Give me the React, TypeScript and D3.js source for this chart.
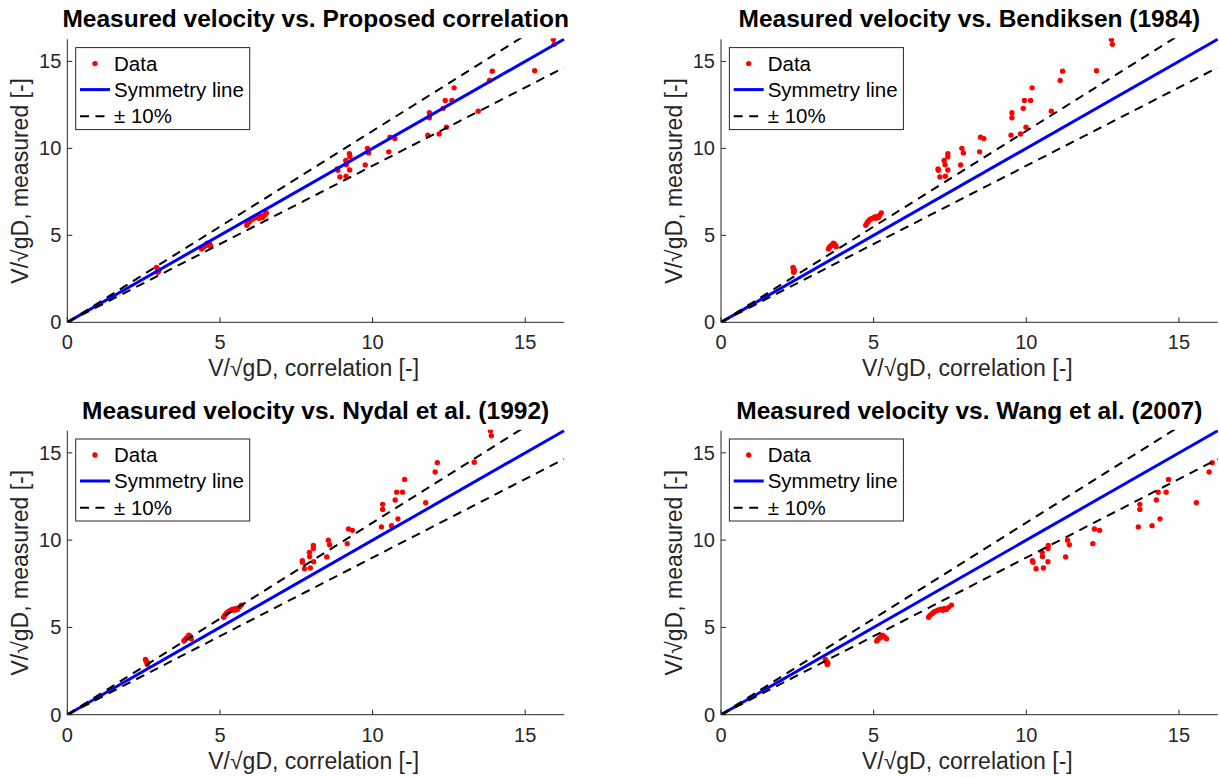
import React from "react";
import * as d3 from "d3";

// Measured dimensionless velocity (shared by all four panels)
const measured = [
  3.16, 3.08, 3.02, 2.95, 2.88,
  4.22, 4.30, 4.38, 4.42, 4.48, 4.52, 4.55, 4.45, 4.35,
  5.58, 5.70, 5.80, 5.88, 5.95, 6.00, 6.05, 5.98, 6.08, 6.02, 6.15, 6.28,
  8.82, 8.74, 8.36, 9.30, 9.06, 8.40, 9.52, 9.70, 8.76,
  9.04, 10.0, 9.74,
  9.80, 10.64, 10.56,
  10.76, 12.05, 11.76, 10.83,
  12.30, 12.75, 11.22, 12.75, 13.48,
  12.14,
  13.90, 14.44,
  14.46,
  16.26, 15.98,
];

const corrProposed = [
  2.92, 2.95, 2.97, 3.0, 2.96,
  4.40, 4.45, 4.50, 4.55, 4.60, 4.65, 4.58, 4.68, 4.70,
  5.88, 5.92, 5.97, 6.02, 6.08, 6.14, 6.20, 6.28, 6.34, 6.40, 6.46, 6.52,
  8.84, 8.86, 8.93, 9.12, 9.14, 9.13, 9.26, 9.24, 9.25,
  9.76, 9.83, 9.87,
  10.53, 10.57, 10.73,
  11.81, 11.86, 11.86, 12.18,
  12.31, 12.38, 12.42, 12.60, 12.67,
  13.46,
  13.83, 13.92,
  15.31,
  15.92, 15.95,
];

const corrBendiksen = [
  2.36, 2.37, 2.39, 2.40, 2.38,
  3.52, 3.55, 3.58, 3.62, 3.66, 3.70, 3.68, 3.74, 3.77,
  4.74, 4.78, 4.82, 4.86, 4.92, 4.98, 5.04, 5.08, 5.12, 5.16, 5.20, 5.25,
  7.11, 7.12, 7.17, 7.31, 7.34, 7.35, 7.43, 7.43, 7.43,
  7.85, 7.89, 7.94,
  8.47, 8.50, 8.61,
  9.50, 9.53, 9.53, 9.81,
  9.90, 9.94, 9.99, 10.14, 10.19,
  10.82,
  11.11, 11.19,
  12.30,
  12.79, 12.82,
];

const corrNydal = [
  2.56, 2.58, 2.60, 2.63, 2.62,
  3.82, 3.86, 3.90, 3.94, 3.97, 4.00, 3.98, 4.03, 4.06,
  5.12, 5.16, 5.21, 5.26, 5.31, 5.37, 5.42, 5.47, 5.52, 5.57, 5.63, 5.70,
  7.70, 7.70, 7.77, 7.93, 7.94, 7.96, 8.06, 8.06, 8.07,
  8.50, 8.55, 8.59,
  9.17, 9.21, 9.34,
  10.29, 10.33, 10.33, 10.62,
  10.74, 10.79, 10.83, 10.98, 11.05,
  11.74,
  12.05, 12.12,
  13.33,
  13.86, 13.89,
];

const corrWang = [
  3.42, 3.44, 3.46, 3.50, 3.48,
  5.10, 5.14, 5.18, 5.22, 5.26, 5.30, 5.28, 5.36, 5.42,
  6.80, 6.85, 6.92, 6.98, 7.05, 7.12, 7.20, 7.26, 7.32, 7.38, 7.46, 7.55,
  10.20, 10.22, 10.32, 10.52, 10.53, 10.56, 10.71, 10.72, 10.71,
  11.29, 11.35, 11.41,
  12.18, 12.23, 12.40,
  13.67, 13.72, 13.72, 14.12,
  14.26, 14.32, 14.38, 14.58, 14.66,
  15.57,
  15.99, 16.09,
  17.60,
  18.90, 18.95,
];

const panelTitles = [
  "Measured velocity vs. Proposed correlation",
  "Measured velocity vs. Bendiksen (1984)",
  "Measured velocity vs. Nydal et al. (1992)",
  "Measured velocity vs. Wang et al. (2007)",
];
const panelCorr = [corrProposed, corrBendiksen, corrNydal, corrWang];
const tickValues = [0, 5, 10, 15];
const axisMax = 16.27;
const bandFactors = [1.1, 0.9];
const legendLabels = ["Data", "Symmetry line", "\u00b1 10%"];
const xLabel = "V/\u221agD, correlation [-]";
const yLabel = "V/\u221agD, measured [-]";

const FONT = "'Liberation Sans', Arial, Helvetica, sans-serif";
const TXT = "#262626";
const DASH = "9,6.5";

const plotW = 496.7;
const panelPos = [
  { left: 67.3, bottom: 322.3, h: 283 },
  { left: 721, bottom: 322.3, h: 283 },
  { left: 67.3, bottom: 714.7, h: 284 },
  { left: 721, bottom: 714.7, h: 284 },
];

function Panel({ idx }: { idx: number }) {
  const p = panelPos[idx];
  const top = p.bottom - p.h;
  const x = d3.scaleLinear().domain([0, axisMax]).range([p.left, p.left + plotW]);
  const y = d3.scaleLinear().domain([0, axisMax]).range([p.bottom, top]);
  const xs = panelCorr[idx];
  const line = d3
    .line<[number, number]>()
    .x((d) => x(d[0]))
    .y((d) => y(d[1]));
  const sym: [number, number][] = [
    [0, 0],
    [axisMax, axisMax],
  ];
  const clipId = `clip${idx}`;
  const lgX = p.left + 8.4;
  const lgY = top + 8.3;
  const midX = p.left + plotW / 2;
  return (
    <g>
      <defs>
        <clipPath id={clipId}>
          <rect x={p.left} y={top - 1} width={plotW + 1} height={p.h + 1} />
        </clipPath>
      </defs>
      <g clipPath={`url(#${clipId})`}>
        {xs.map((v, i) => (
          <circle key={i} cx={x(v)} cy={y(measured[i])} r={2.7} fill="#ff0000" />
        ))}
        <path d={line(sym) || ""} stroke="#0000ff" strokeWidth={3} fill="none" />
        {bandFactors.map((f, k) => (
          <path
            key={k}
            d={line([
              [0, 0],
              [axisMax, axisMax * f],
            ]) || ""}
            stroke="#000"
            strokeWidth={2}
            strokeDasharray={DASH}
            fill="none"
          />
        ))}
      </g>
      {/* axes */}
      <line x1={p.left} x2={p.left + plotW} y1={p.bottom} y2={p.bottom} stroke={TXT} strokeWidth={1} />
      <line x1={p.left} x2={p.left} y1={p.bottom} y2={top} stroke={TXT} strokeWidth={1} />
      {tickValues.map((t) => (
        <g key={"x" + t}>
          <line x1={x(t)} x2={x(t)} y1={p.bottom} y2={p.bottom - 5} stroke={TXT} />
          <text x={x(t)} y={p.bottom + 27} textAnchor="middle" fontSize={20} fill={TXT} fontFamily={FONT}>
            {t}
          </text>
        </g>
      ))}
      {tickValues.map((t) => (
        <g key={"y" + t}>
          <line x1={p.left} x2={p.left + 5} y1={y(t)} y2={y(t)} stroke={TXT} />
          <text x={p.left - 6} y={y(t) + 7} textAnchor="end" fontSize={20} fill={TXT} fontFamily={FONT}>
            {t}
          </text>
        </g>
      ))}
      <text x={midX - 2} y={p.bottom + 54} textAnchor="middle" fontSize={23} fill={TXT} fontFamily={FONT}>
        {xLabel}
      </text>
      <text
        transform={`translate(${p.left - 39},${(p.bottom + top) / 2}) rotate(-90)`}
        textAnchor="middle"
        fontSize={23}
        fill={TXT}
        fontFamily={FONT}
      >
        {yLabel}
      </text>
      <text x={midX} y={top - 12} textAnchor="middle" fontSize={24.5} fontWeight="bold" fill="#000" fontFamily={FONT}>
        {panelTitles[idx]}
      </text>
      {/* legend */}
      <g transform={`translate(${lgX},${lgY})`}>
        <rect x={0} y={0} width={174} height={82} fill="#fff" stroke={TXT} strokeWidth={1} />
        <circle cx={19.3} cy={16} r={2.7} fill="#ff0000" />
        <line x1={4.3} x2={34.3} y1={42} y2={42} stroke="#0000ff" strokeWidth={3} />
        <line x1={4.3} x2={34.3} y1={68.7} y2={68.7} stroke="#000" strokeWidth={2} strokeDasharray={DASH} />
        {legendLabels.map((l, i) => (
          <text key={l} x={38.3} y={[16, 42, 68.7][i] + 7} fontSize={20.5} fill="#000" fontFamily={FONT}>
            {l}
          </text>
        ))}
      </g>
    </g>
  );
}

export default function App() {
  return (
    <svg
      width={1219}
      height={778}
      style={{ position: "absolute", left: 0, top: 0, background: "#fff" }}
    >
      <rect width={1219} height={778} fill="#fff" />
      {[0, 1, 2, 3].map((i) => (
        <Panel key={i} idx={i} />
      ))}
    </svg>
  );
}
